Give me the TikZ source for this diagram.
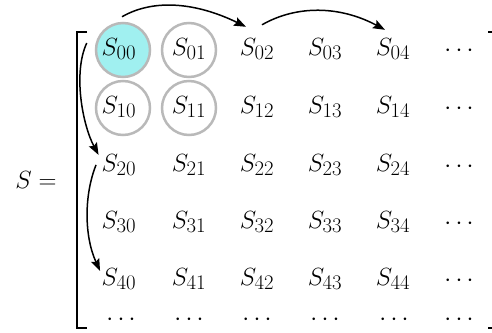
\documentclass[tikz,border=0pt]{standalone}
\usetikzlibrary{arrows.meta}
\definecolor{ringgray}{RGB}{185,185,185}
\definecolor{cyanfill}{RGB}{160,240,240}
\begin{document}
\begin{tikzpicture}[x=1pt,y=-1pt,
  ent/.style={inner sep=0pt, anchor=base, font=\fontsize{31}{37}\selectfont},
  dts/.style={inner sep=0pt, anchor=center, font=\fontsize{30}{36}\selectfont},
  ring/.style={circle, draw=ringgray, line width=2.5pt, minimum size=54pt, inner sep=0pt},
  arr/.style={line width=1.5pt, -{Stealth[length=12pt,width=9pt,inset=2pt]}},
  brk/.style={line width=1.8pt}]
\useasboundingbox (0,0) rectangle (492,332);
\clip (0,0) rectangle (492,332);
% highlighted circles
\node[ring, fill=cyanfill] (c00) at (123,50) {};
\node[ring] (c01) at (189,50) {};
\node[ring] (c10) at (123,108) {};
\node[ring] (c11) at (189,108) {};
% left side
\node[ent] (lhs) at (36,188) {$S=$};
% bracket
\draw[brk] (87,32) -- (77,32) -- (77,328) -- (87,328);
\draw[brk] (488,32) -- (497,32);
\draw[brk] (488,328) -- (497,328);
% entries
\foreach \r/\y in {0/55,1/113,2/171,3/228,4/285}{
  \foreach \c/\x in {0/119,1/189,2/257,3/325,4/393}{
    \node[ent] (s\r\c) at (\x,\y) {$S_{\r\c}$};
  }
}
\node[dts] (d0) at (459,51) {$\cdots$};
\node[dts] (d1) at (459,109) {$\cdots$};
\node[dts] (d2) at (459,167) {$\cdots$};
\node[dts] (d3) at (459,224) {$\cdots$};
\node[dts] (d4) at (459,281) {$\cdots$};
\node[dts] (e0) at (121,320) {$\cdots$};
\node[dts] (e1) at (189,320) {$\cdots$};
\node[dts] (e2) at (257,320) {$\cdots$};
\node[dts] (e3) at (325,320) {$\cdots$};
\node[dts] (e4) at (394,320) {$\cdots$};
\node[dts] (e5) at (459,320) {$\cdots$};
% arrows
\draw[arr] ([shift={(-1pt,5pt)}]c00.north) .. controls +(35,-20) and +(-45,-22) .. ([shift={(-11pt,11pt)}]s02.north);
\draw[arr] ([shift={(5pt,13pt)}]s02.north) .. controls +(35,-20) and +(-45,-24) .. ([shift={(-8pt,8pt)}]s04.north);
\draw[arr] ([shift={(-8pt,7pt)}]c00.west) .. controls +(-14,30) and +(-16,-30) .. ([shift={(-3pt,10pt)}]s20.west);
\draw[arr] ([shift={(-5.5pt,0pt)}]s20.west) .. controls +(-12,30) and +(-16,-35) .. ([shift={(-1.5pt,8pt)}]s40.west);
\end{tikzpicture}
\end{document}
